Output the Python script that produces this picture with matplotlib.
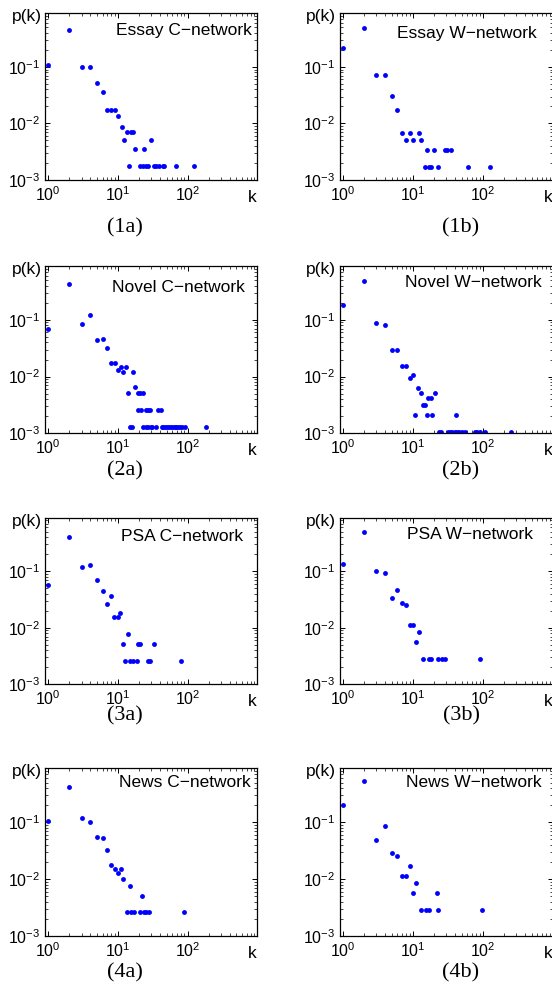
import matplotlib
matplotlib.use("Agg")
import matplotlib.pyplot as plt
from matplotlib.ticker import LogLocator, NullFormatter

plt.rcParams['font.family'] = ['Liberation Sans', 'DejaVu Sans']
plt.rcParams['mathtext.default'] = 'regular'

# ---------------- data ----------------
k_1a = [1, 2, 3, 4, 5, 6, 7, 8, 9, 10, 11.3, 12.2, 13.4, 14.4, 15.6, 16.7, 17.5,
        20.6, 22.5, 23.8, 25.2, 26.7, 29.8, 32.6, 35.2, 39.3, 44, 46.4, 68.6, 124]
p_1a = [0.11, 0.456, 0.1, 0.1, 0.052, 0.0367, 0.0174, 0.0174, 0.0174, 0.0138,
        0.0087, 0.0052, 0.0070, 0.00178, 0.0070, 0.0070, 0.0035,
        0.00178, 0.00178, 0.0035, 0.00178, 0.00178, 0.0052,
        0.00178, 0.00178, 0.00178, 0.00178, 0.00178, 0.00178, 0.00178]

k_1b = [1, 2, 3, 4, 5, 6, 7, 8, 9, 10, 12, 13, 15, 16, 17, 18, 20, 23, 29, 31, 35, 62, 125]
p_1b = [0.218, 0.487, 0.073, 0.073, 0.0305, 0.0171, 0.0068, 0.0051, 0.0068, 0.0051,
        0.0068, 0.0051, 0.0017, 0.0034, 0.0017, 0.0017, 0.0034, 0.0017,
        0.0034, 0.0034, 0.0034, 0.0017, 0.0017]

k_2a = [1, 2, 3, 4, 5, 6, 7, 8, 9, 10, 11, 12, 13, 16.6, 17.7,
        13.7, 19.1, 20.6, 22.5,
        19.7, 21.5, 25.1, 26.8, 29.2, 37.9, 41,
        15, 15.8, 23.2, 25.1, 27.3, 29.6, 31.2, 35.5, 42.4, 45, 48, 51, 54, 57.5,
        61, 65, 69, 73.5, 78, 84, 91, 185]
p_2a = [0.069, 0.434, 0.086, 0.124, 0.0449, 0.0461, 0.0316, 0.0171, 0.0171, 0.0130,
        0.0147, 0.0118, 0.0147, 0.0118, 0.0066,
        0.0052, 0.0052, 0.0052, 0.0052,
        0.0026, 0.0026, 0.0026, 0.0026, 0.0026, 0.0026, 0.0026,
        0.0013, 0.0013, 0.0013, 0.0013, 0.0013, 0.0013, 0.0013, 0.0013, 0.0013,
        0.0013, 0.0013, 0.0013, 0.0013, 0.0013, 0.0013, 0.0013, 0.0013, 0.0013,
        0.0013, 0.0013, 0.0013, 0.0013]

k_2b = [1, 2, 3, 4, 5, 6, 7, 8, 9, 10, 11.9, 12.9, 13.9, 14.7, 16.6, 17.9, 20.9,
        10.8, 15.7, 18.7, 41.7,
        23.5, 25.4, 31.2, 33.3, 35.7, 39.4, 42, 44.9, 49.5, 55.3, 76, 83, 89.5, 106, 251]
p_2b = [0.18, 0.49, 0.0896, 0.080, 0.0291, 0.0291, 0.0151, 0.0151, 0.0096, 0.0107,
        0.0064, 0.0052, 0.00316, 0.00316, 0.0042, 0.0042, 0.0052,
        0.0021, 0.0021, 0.0021, 0.0021,
        0.00105, 0.00105, 0.00105, 0.00105, 0.00105, 0.00105, 0.00105, 0.00105,
        0.00105, 0.00105, 0.00105, 0.00105, 0.00105, 0.00105, 0.00105]

k_3a = [1, 2, 3, 4, 5, 6, 7, 8, 8.8, 9.9, 10.8, 11.8, 13.7, 12.7, 15, 16.2, 18.6,
        19.5, 20.8, 27.3, 28.8, 32.9, 79.5]
p_3a = [0.058, 0.405, 0.121, 0.131, 0.069, 0.045, 0.026, 0.0366, 0.0158, 0.0158,
        0.0183, 0.0052, 0.0078, 0.0026, 0.0026, 0.0026, 0.0026,
        0.0052, 0.0052, 0.0026, 0.0026, 0.0052, 0.0026]

k_3b = [1, 2, 3, 4, 5, 6, 7, 8, 9, 10, 11, 12, 13.7, 17.1, 18.1, 22.5, 26.3, 29, 90.6]
p_3b = [0.133, 0.492, 0.1, 0.094, 0.0332, 0.0473, 0.0278, 0.0252, 0.0111, 0.0111,
        0.0056, 0.0084, 0.00278, 0.00278, 0.00278, 0.00278, 0.00278, 0.00278, 0.00278]

k_4a = [1, 2, 3, 4, 5, 6, 7, 8, 9, 10, 11, 12, 13.6, 14.8, 15.6, 16.9, 20.5, 22.4,
        23.7, 25.6, 27.9, 89.7]
p_4a = [0.104, 0.409, 0.118, 0.103, 0.0558, 0.053, 0.033, 0.0177, 0.0152, 0.0126,
        0.0152, 0.0100, 0.0026, 0.0075, 0.0026, 0.0026, 0.0026, 0.0051,
        0.0026, 0.0026, 0.0026, 0.0026]

k_4b = [1, 2, 3, 4, 5, 6, 7, 8, 9, 10, 11, 12.9, 15.5, 16.7, 21.8, 22.8, 95.7]
p_4b = [0.2, 0.523, 0.0488, 0.0873, 0.0288, 0.0255, 0.0113, 0.0113, 0.017, 0.0057,
        0.0085, 0.00284, 0.00284, 0.00284, 0.0057, 0.00284, 0.00284]

titles = ["Essay C\u2212network", "Essay W\u2212network",
          "Novel C\u2212network", "Novel W\u2212network",
          "PSA C\u2212network", "PSA W\u2212network",
          "News C\u2212network", "News W\u2212network"]
sublabels = ["(1a)", "(1b)", "(2a)", "(2b)", "(3a)", "(3b)", "(4a)", "(4b)"]
series = [(k_1a, p_1a), (k_1b, p_1b), (k_2a, p_2a), (k_2b, p_2b),
          (k_3a, p_3a), (k_3b, p_3b), (k_4a, p_4a), (k_4b, p_4b)]

# ---------------- layout (pixels) ----------------
W, H = 552, 997
fig = plt.figure(figsize=(W / 100, H / 100), dpi=100)

col_x = [(45.3, 257.3), (340.0, 553.0)]
row_y = [(13.3, 180.0), (266.0, 433.3), (517.7, 684.3), (768.3, 936.0)]
# text right offset from right spine, baseline offset from top spine (px)
text_off = [(5.3, 22.0), (16.0, 24.3), (12.5, 25.7), (11.0, 21.0),
            (14.6, 23.3), (19.7, 21.3), (7.0, 18.4), (11.0, 19.0)]
sub_y = [228, 228, 471, 471, 716, 716, 973, 973]
sub_x = [125, 461]

PT = 0.72  # points per pixel at 100 dpi

for i, (k, p) in enumerate(series):
    r, c = divmod(i, 2)
    x0, x1 = col_x[c]
    y0, y1 = row_y[r]
    ax = fig.add_axes([x0 / W, 1 - y1 / H, (x1 - x0) / W, (y1 - y0) / H])
    ax.set_xscale('log')
    ax.set_yscale('log')
    ax.plot(k, p, linestyle='none', marker='o', markersize=3.5,
            color='#0000ff', markeredgewidth=0)
    ax.set_xlim(0.905, 1000)
    ax.set_ylim(1e-3, 0.89)
    ax.set_xticks([1, 10, 100])
    ax.set_yticks([1e-3, 1e-2, 1e-1])
    ax.xaxis.set_minor_locator(LogLocator(base=10, subs=range(2, 10), numticks=20))
    ax.yaxis.set_minor_locator(LogLocator(base=10, subs=range(2, 10), numticks=20))
    ax.xaxis.set_minor_formatter(NullFormatter())
    ax.yaxis.set_minor_formatter(NullFormatter())
    ax.tick_params(which='major', direction='in', length=3.5, width=0.7,
                   top=True, right=True, labelsize=11.5, pad=3.5, colors='black')
    ax.tick_params(which='minor', direction='in', length=2, width=0.5,
                   top=True, right=True)
    for s in ax.spines.values():
        s.set_linewidth(0.9)
        s.set_color('black')
    dx, dy = text_off[i]
    ax.annotate(titles[i], xy=(1, 1), xycoords='axes fraction',
                xytext=(-dx * PT, -dy * PT), textcoords='offset points',
                ha='right', va='baseline', fontsize=12.5)
    # y label p(k) at the top-left outside the axes
    ax.annotate("p(k)", xy=(0, 1), xycoords='axes fraction',
                xytext=(-3.6 * PT, -3.5 * PT), textcoords='offset points',
                ha='right', va='center', fontsize=12.5, annotation_clip=False)
    # x label k at the right end, on the tick-label line
    ax.annotate("k", xy=(1, 0), xycoords='axes fraction',
                xytext=(-5 * PT, -17 * PT), textcoords='offset points',
                ha='center', va='center', fontsize=12.5, annotation_clip=False)
    fig.text(sub_x[c] / W, 1 - sub_y[i] / H, sublabels[i], ha='center', va='center',
             fontsize=16, family=['Liberation Serif', 'DejaVu Serif'])

fig.savefig("out.png", dpi=100)
